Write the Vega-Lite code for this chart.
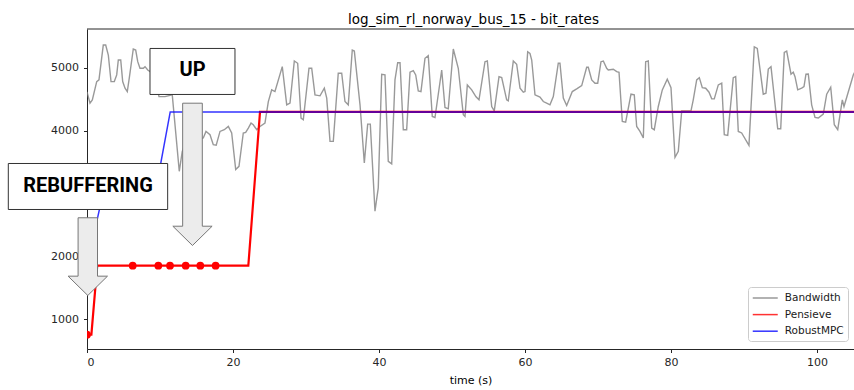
{
  "$schema": "https://vega.github.io/schema/vega-lite/v6.json",
  "width": 767,
  "height": 320,
  "autosize": "none",
  "padding": {"left": 87, "top": 29, "right": 0, "bottom": 41},
  "title": {"text": "log_sim_rl_norway_bus_15 - bit_rates", "font": "DejaVu Sans", "fontSize": 13.5, "fontWeight": "normal", "color": "#000000", "anchor": "middle", "baseline": "alphabetic", "frame": "group", "offset": -9, "dx": 3},
  "config": {
    "font": "DejaVu Sans",
    "view": {"stroke": null},
    "axis": {"grid": false, "labelFont": "DejaVu Sans", "labelFontSize": 11, "labelColor": "#262626", "tickColor": "#262626", "domainColor": "#262626", "tickSize": 3.5, "labelPadding": 3.5, "titleFont": "DejaVu Sans", "titleFontSize": 11, "titleFontWeight": "normal", "titleColor": "#000000"},
    "legend": {"orient": "none", "legendX": 661, "legendY": 258, "padding": 4, "strokeColor": "#cccccc", "fillColor": "#ffffff", "cornerRadius": 3, "labelFont": "DejaVu Sans", "labelFontSize": 10.5, "labelColor": "#1a1a1a", "symbolType": "M-2,0L2,0", "symbolSize": 156.25, "symbolOffset": 6.25, "labelOffset": 12.5, "rowPadding": 3.6}
  },
  "datasets": {
    "bw": [
      {"t": 0, "kbps": 4620}, {"t": 0.41, "kbps": 4440}, {"t": 0.73, "kbps": 4492}, {"t": 1.33, "kbps": 4783}, {"t": 1.64, "kbps": 4810},
      {"t": 2.23, "kbps": 5365}, {"t": 2.56, "kbps": 5365}, {"t": 2.92, "kbps": 5206}, {"t": 3.29, "kbps": 4783}, {"t": 3.74, "kbps": 4783},
      {"t": 4.07, "kbps": 4889}, {"t": 4.29, "kbps": 5127}, {"t": 4.62, "kbps": 5127}, {"t": 4.89, "kbps": 4783}, {"t": 5.21, "kbps": 4678},
      {"t": 5.52, "kbps": 4624}, {"t": 5.79, "kbps": 4837}, {"t": 6.34, "kbps": 5302}, {"t": 6.67, "kbps": 5286}, {"t": 6.95, "kbps": 5100},
      {"t": 7.26, "kbps": 4995}, {"t": 7.71, "kbps": 4995}, {"t": 7.95, "kbps": 5021}, {"t": 8.32, "kbps": 4968}, {"t": 9.32, "kbps": 4889},
      {"t": 9.86, "kbps": 4544}, {"t": 10.68, "kbps": 4544}, {"t": 11.68, "kbps": 4571}, {"t": 12.64, "kbps": 3354}, {"t": 13.05, "kbps": 3671},
      {"t": 14.11, "kbps": 4016}, {"t": 15.07, "kbps": 3857}, {"t": 15.93, "kbps": 3884}, {"t": 16.3, "kbps": 3989}, {"t": 16.85, "kbps": 3937},
      {"t": 17.3, "kbps": 3778}, {"t": 17.7, "kbps": 3770}, {"t": 18.22, "kbps": 3989}, {"t": 18.81, "kbps": 4016}, {"t": 19.36, "kbps": 4068},
      {"t": 19.82, "kbps": 3964}, {"t": 20.37, "kbps": 3381}, {"t": 20.82, "kbps": 3433}, {"t": 21.41, "kbps": 3964}, {"t": 21.74, "kbps": 3973},
      {"t": 22.1, "kbps": 4043}, {"t": 22.47, "kbps": 4122}, {"t": 22.78, "kbps": 4095}, {"t": 23.25, "kbps": 4016}, {"t": 23.7, "kbps": 4068},
      {"t": 24.38, "kbps": 4122}, {"t": 24.84, "kbps": 4465}, {"t": 25.3, "kbps": 4651}, {"t": 25.75, "kbps": 4624}, {"t": 26.75, "kbps": 5021},
      {"t": 27.36, "kbps": 4413}, {"t": 27.81, "kbps": 4440}, {"t": 28.4, "kbps": 5111}, {"t": 28.86, "kbps": 5075}, {"t": 29.32, "kbps": 4202},
      {"t": 29.63, "kbps": 4175}, {"t": 30.41, "kbps": 4995}, {"t": 30.78, "kbps": 4995}, {"t": 31.23, "kbps": 4571}, {"t": 31.92, "kbps": 4556},
      {"t": 32.51, "kbps": 4678}, {"t": 32.84, "kbps": 4519}, {"t": 33.29, "kbps": 3830}, {"t": 33.74, "kbps": 3830}, {"t": 34.42, "kbps": 4916},
      {"t": 34.89, "kbps": 4916}, {"t": 35.34, "kbps": 4465}, {"t": 35.79, "kbps": 4413}, {"t": 36.34, "kbps": 5286}, {"t": 36.62, "kbps": 5270},
      {"t": 37.4, "kbps": 4413}, {"t": 37.99, "kbps": 3487}, {"t": 38.45, "kbps": 4106}, {"t": 38.81, "kbps": 4106}, {"t": 39.45, "kbps": 2719},
      {"t": 39.9, "kbps": 3090}, {"t": 40.37, "kbps": 4900}, {"t": 40.82, "kbps": 4889}, {"t": 41.27, "kbps": 3513}, {"t": 41.74, "kbps": 3471},
      {"t": 42.19, "kbps": 4810}, {"t": 42.56, "kbps": 5084}, {"t": 42.88, "kbps": 5084}, {"t": 43.33, "kbps": 4016}, {"t": 43.79, "kbps": 4016},
      {"t": 44.25, "kbps": 4932}, {"t": 44.7, "kbps": 4957}, {"t": 45.03, "kbps": 4889}, {"t": 45.38, "kbps": 4635}, {"t": 45.75, "kbps": 4624},
      {"t": 46.3, "kbps": 5154}, {"t": 46.75, "kbps": 5195}, {"t": 47.3, "kbps": 4227}, {"t": 47.67, "kbps": 4211}, {"t": 48.59, "kbps": 4968},
      {"t": 49.04, "kbps": 4370}, {"t": 49.49, "kbps": 4349}, {"t": 50.18, "kbps": 5302}, {"t": 50.86, "kbps": 4995}, {"t": 51.55, "kbps": 4254},
      {"t": 51.78, "kbps": 4227}, {"t": 52.1, "kbps": 4730}, {"t": 52.7, "kbps": 4651}, {"t": 53.29, "kbps": 4540}, {"t": 53.7, "kbps": 4492},
      {"t": 54.52, "kbps": 5100}, {"t": 54.84, "kbps": 5111}, {"t": 55.44, "kbps": 4385}, {"t": 55.79, "kbps": 4317}, {"t": 56.44, "kbps": 4862},
      {"t": 56.81, "kbps": 4846}, {"t": 57.49, "kbps": 4492}, {"t": 57.71, "kbps": 4476}, {"t": 58.4, "kbps": 5111}, {"t": 58.86, "kbps": 5059},
      {"t": 59.32, "kbps": 4678}, {"t": 59.77, "kbps": 4614}, {"t": 60.0, "kbps": 4624}, {"t": 60.37, "kbps": 5259}, {"t": 60.68, "kbps": 5233},
      {"t": 60.92, "kbps": 5127}, {"t": 61.37, "kbps": 4571}, {"t": 62.05, "kbps": 4535}, {"t": 62.51, "kbps": 4465}, {"t": 62.97, "kbps": 4440},
      {"t": 63.42, "kbps": 4413}, {"t": 63.88, "kbps": 4544}, {"t": 64.56, "kbps": 5075}, {"t": 64.79, "kbps": 5075}, {"t": 65.25, "kbps": 4519},
      {"t": 65.71, "kbps": 4402}, {"t": 66.48, "kbps": 4624}, {"t": 67.08, "kbps": 4667}, {"t": 67.77, "kbps": 4719}, {"t": 68.45, "kbps": 5011},
      {"t": 68.67, "kbps": 5011}, {"t": 69.14, "kbps": 4810}, {"t": 69.59, "kbps": 4757}, {"t": 69.96, "kbps": 4757}, {"t": 70.41, "kbps": 5100},
      {"t": 70.73, "kbps": 5111}, {"t": 71.19, "kbps": 4995}, {"t": 71.41, "kbps": 4968}, {"t": 72.1, "kbps": 4979}, {"t": 72.56, "kbps": 4941},
      {"t": 72.88, "kbps": 4932}, {"t": 73.33, "kbps": 4148}, {"t": 73.79, "kbps": 4138}, {"t": 74.52, "kbps": 4582}, {"t": 74.97, "kbps": 4571},
      {"t": 75.3, "kbps": 4068}, {"t": 75.75, "kbps": 3989}, {"t": 76.21, "kbps": 3884}, {"t": 76.53, "kbps": 5100}, {"t": 76.89, "kbps": 5111},
      {"t": 77.36, "kbps": 4043}, {"t": 77.71, "kbps": 4016}, {"t": 78.26, "kbps": 4386}, {"t": 78.81, "kbps": 4651}, {"t": 79.49, "kbps": 4821},
      {"t": 80.0, "kbps": 4687}, {"t": 80.55, "kbps": 3576}, {"t": 81.0, "kbps": 3671}, {"t": 81.47, "kbps": 4317}, {"t": 82.74, "kbps": 4317},
      {"t": 83.05, "kbps": 4492}, {"t": 83.52, "kbps": 4810}, {"t": 83.88, "kbps": 4846}, {"t": 84.29, "kbps": 4687}, {"t": 84.75, "kbps": 4677},
      {"t": 85.21, "kbps": 4614}, {"t": 85.58, "kbps": 4508}, {"t": 85.93, "kbps": 4508}, {"t": 86.48, "kbps": 4730}, {"t": 86.95, "kbps": 4757},
      {"t": 87.3, "kbps": 3936}, {"t": 87.77, "kbps": 3925}, {"t": 88.53, "kbps": 4846}, {"t": 88.86, "kbps": 4862}, {"t": 89.22, "kbps": 3989},
      {"t": 89.68, "kbps": 3964}, {"t": 90.68, "kbps": 3767}, {"t": 91.41, "kbps": 5338}, {"t": 91.82, "kbps": 5313}, {"t": 92.64, "kbps": 4582},
      {"t": 93.01, "kbps": 4598}, {"t": 93.33, "kbps": 4984}, {"t": 93.7, "kbps": 5021}, {"t": 94.62, "kbps": 4032}, {"t": 95.03, "kbps": 4032},
      {"t": 95.52, "kbps": 5249}, {"t": 95.85, "kbps": 5270}, {"t": 96.44, "kbps": 4900}, {"t": 96.75, "kbps": 4932}, {"t": 96.99, "kbps": 4862},
      {"t": 97.36, "kbps": 4651}, {"t": 97.9, "kbps": 4678}, {"t": 98.22, "kbps": 4703}, {"t": 98.49, "kbps": 4900}, {"t": 98.81, "kbps": 4905},
      {"t": 99.27, "kbps": 4413}, {"t": 99.73, "kbps": 4211}, {"t": 100.18, "kbps": 4202}, {"t": 100.86, "kbps": 4265}, {"t": 101.33, "kbps": 4582},
      {"t": 101.88, "kbps": 4693}, {"t": 102.37, "kbps": 4095}, {"t": 102.84, "kbps": 4016}, {"t": 103.47, "kbps": 4492}, {"t": 103.7, "kbps": 4386},
      {"t": 104.97, "kbps": 4889}, {"t": 105.5, "kbps": 5010}
    ],
    "pensieve": [
      {"t": 0, "kbps": 750}, {"t": 0.6, "kbps": 750}, {"t": 1.4, "kbps": 1850}, {"t": 22.1, "kbps": 1850}, {"t": 23.7, "kbps": 4300}, {"t": 105.5, "kbps": 4300}
    ],
    "mpc": [
      {"t": 0, "kbps": 1850}, {"t": 1.9, "kbps": 2850}, {"t": 9.1, "kbps": 2850}, {"t": 11.4, "kbps": 4300}, {"t": 105.5, "kbps": 4300}
    ],
    "rebuf": [
      {"t": 0, "kbps": 750}, {"t": 6.26, "kbps": 1850}, {"t": 9.77, "kbps": 1850}, {"t": 11.37, "kbps": 1850}, {"t": 13.52, "kbps": 1850}, {"t": 15.52, "kbps": 1850}, {"t": 17.62, "kbps": 1850}
    ],
    "boxes": [
      {"label": "UP", "x1": 8.63, "x2": 20.27, "y1": 4578, "y2": 5311, "tx": 14.45, "ty": 4869},
      {"label": "REBUFFERING", "x1": -10.78, "x2": 11.05, "y1": 2745, "y2": 3478, "tx": 0.14, "ty": 3021}
    ],
    "arrow_up": [{"ax": 14.45, "ay": 3305}],
    "arrow_rebuf": [{"ax": 0.11, "ay": 1994}],
    "border": [{"x1": 0, "x2": 105.07, "top": 5621}]
  },
  "layer": [
    {
      "data": {"name": "border"},
      "mark": {"type": "rule", "color": "#262626", "strokeWidth": 1},
      "encoding": {
        "x": {"field": "x1", "type": "quantitative", "scale": {"domain": [0, 105.07], "nice": false, "zero": false}, "axis": {"values": [0, 20, 40, 60, 80, 100], "format": "d", "title": "time (s)", "titlePadding": 7}},
        "x2": {"field": "x2"},
        "y": {"field": "top", "type": "quantitative", "scale": {"domain": [522, 5621], "nice": false, "zero": false}, "axis": {"values": [1000, 2000, 3000, 4000, 5000], "format": "d", "title": "bit_rate", "titlePadding": 6, "labelPadding": 5}}
      }
    },
    {
      "data": {"name": "bw"},
      "transform": [{"calculate": "'Bandwidth'", "as": "series"}],
      "mark": {"type": "line", "clip": true, "strokeWidth": 1.4, "opacity": 0.8},
      "encoding": {
        "x": {"field": "t", "type": "quantitative"},
        "y": {"field": "kbps", "type": "quantitative"},
        "color": {"field": "series", "type": "nominal", "scale": {"domain": ["Bandwidth", "Pensieve", "RobustMPC"], "range": ["#808080", "#ff0000", "#0000ff"]},
          "legend": {"title": null, "encode": {"symbols": {"update": {
            "strokeWidth": {"signal": "datum.value === 'Pensieve' ? 2.2 : 1.5"},
            "opacity": {"signal": "datum.value === 'RobustMPC' ? 0.7 : (datum.value === 'Bandwidth' ? 0.8 : 1)"}
          }}}}}
      }
    },
    {
      "data": {"name": "pensieve"},
      "transform": [{"calculate": "'Pensieve'", "as": "series"}],
      "mark": {"type": "line", "clip": true, "strokeWidth": 2.2, "opacity": 1},
      "encoding": {
        "x": {"field": "t", "type": "quantitative"},
        "y": {"field": "kbps", "type": "quantitative"},
        "color": {"field": "series", "type": "nominal"}
      }
    },
    {
      "data": {"name": "mpc"},
      "transform": [{"calculate": "'RobustMPC'", "as": "series"}],
      "mark": {"type": "line", "clip": true, "strokeWidth": 1.5, "opacity": 0.8},
      "encoding": {
        "x": {"field": "t", "type": "quantitative"},
        "y": {"field": "kbps", "type": "quantitative"},
        "color": {"field": "series", "type": "nominal"}
      }
    },
    {
      "data": {"name": "rebuf"},
      "mark": {"type": "point", "shape": "circle", "filled": true, "size": 60, "color": "#ff0000", "opacity": 1, "clip": true},
      "encoding": {
        "x": {"field": "t", "type": "quantitative"},
        "y": {"field": "kbps", "type": "quantitative"}
      }
    },
    {
      "data": {"name": "boxes"},
      "mark": {"type": "rect", "fill": "#ffffff", "stroke": "#333333", "strokeWidth": 1},
      "encoding": {
        "x": {"field": "x1", "type": "quantitative"},
        "x2": {"field": "x2"},
        "y": {"field": "y1", "type": "quantitative"},
        "y2": {"field": "y2"}
      }
    },
    {
      "data": {"name": "boxes"},
      "mark": {"type": "text", "font": "Roboto", "fontWeight": "bold", "fontSize": 20, "color": "#000000", "align": "center", "baseline": "alphabetic"},
      "encoding": {
        "x": {"field": "tx", "type": "quantitative"},
        "y": {"field": "ty", "type": "quantitative"},
        "text": {"field": "label"}
      }
    },
    {
      "data": {"name": "arrow_up"},
      "mark": {"type": "point", "shape": "M-0.138,-1L0.138,-1L0.138,0.729L0.276,0.729L0,1L-0.276,0.729L-0.138,0.729Z", "size": 20249, "filled": true, "fill": "#ececec", "stroke": "#777777", "strokeWidth": 1, "opacity": 1},
      "encoding": {
        "x": {"field": "ax", "type": "quantitative"},
        "y": {"field": "ay", "type": "quantitative"}
      }
    },
    {
      "data": {"name": "arrow_rebuf"},
      "mark": {"type": "point", "shape": "M-0.25,-1L0.25,-1L0.25,0.503L0.507,0.503L0,1L-0.507,0.503L-0.25,0.503Z", "size": 6037, "filled": true, "fill": "#ececec", "stroke": "#777777", "strokeWidth": 1, "opacity": 1},
      "encoding": {
        "x": {"field": "ax", "type": "quantitative"},
        "y": {"field": "ay", "type": "quantitative"}
      }
    }
  ]
}
